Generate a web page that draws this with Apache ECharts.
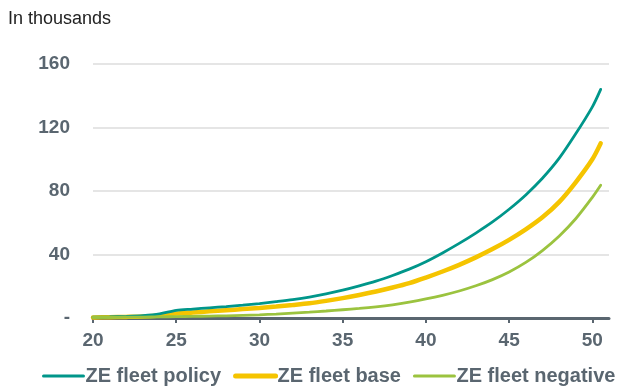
<!DOCTYPE html>
<html>
<head>
<meta charset="utf-8">
<script src="https://cdn.jsdelivr.net/npm/echarts@6/dist/echarts.min.js"></script>
<style>
  html, body { margin: 0; padding: 0; background: #fff; }
  #chart { width: 619px; height: 390px; }
</style>
</head>
<body>
<div id="chart"></div>
<script>
// Zero-emission fleet projections, thousands of vehicles
const years = [20, 21, 22, 23, 24, 25, 26, 27, 28, 29, 30, 31, 32, 33, 34, 35,
  36, 37, 38, 39, 40, 41, 42, 43, 44, 45, 46, 47, 48, 49, 50, 50.5];

const policy = [0.5, 0.7, 1.0, 1.5, 2.6, 4.8, 5.6, 6.4, 7.2, 8.1, 9.1, 10.3, 11.6,
  13.2, 15.2, 17.5, 20.2, 23.2, 26.8, 30.8, 35.5, 41, 47, 53.5, 60.5, 68.5, 77.5,
  88, 100.5, 116, 133, 144];

const base = [0.3, 0.5, 0.7, 1.0, 1.6, 2.8, 3.5, 4.2, 4.9, 5.6, 6.3, 7.2, 8.2,
  9.3, 10.8, 12.5, 14.5, 16.7, 19.2, 22, 25.5, 29.3, 33.5, 38.2, 43.4, 49.2, 55.8,
  63.4, 73, 85.5, 100, 110];

const negative = [0.3, 0.4, 0.5, 0.6, 0.7, 0.9, 1.0, 1.2, 1.4, 1.7, 2.0, 2.5, 3.1,
  3.7, 4.4, 5.2, 6.0, 7.0, 8.3, 10, 12, 14.3, 17, 20.3, 24.2, 29, 35, 42.5, 51.5,
  62.5, 76, 83.6];

const seriesNames = ['ZE fleet policy', 'ZE fleet base', 'ZE fleet negative'];
const xTickValues = [20, 25, 30, 35, 40, 45, 50];

const FONT = '"Liberation Sans", Arial, sans-serif';
const LABEL = '#5a6670';
const COLORS = ['#00968a', '#f5c400', '#9bc33f'];

const pairs = arr => years.map((y, i) => [y, arr[i]]);

const chart = echarts.init(document.getElementById('chart'), null, { renderer: 'canvas' });
chart.setOption({
  animation: false,
  backgroundColor: '#ffffff',
  title: {
    text: 'In thousands',
    left: 3,
    top: 5,
    textStyle: { fontFamily: FONT, fontSize: 18, fontWeight: 'normal', color: '#222' }
  },
  grid: { left: 93, right: 10, top: 64, bottom: 72 },
  legend: {
    top: 366,
    left: 42,
    padding: 0,
    itemWidth: 40,
    itemHeight: 12,
    itemGap: 12,
    itemStyle: { opacity: 0 },
    textStyle: { fontFamily: FONT, fontSize: 20, fontWeight: 'bold', color: LABEL, padding: [0, 0, 0, -3] },
    data: [
      { name: seriesNames[0], lineStyle: { width: 3, cap: 'round' } },
      { name: seriesNames[1], lineStyle: { width: 5, cap: 'round' } },
      { name: seriesNames[2], lineStyle: { width: 3, cap: 'round' } }
    ]
  },
  xAxis: {
    type: 'value',
    min: 20,
    max: 51,
    splitLine: { show: false },
    axisLine: { show: true, lineStyle: { color: '#5a6670', width: 3 } },
    axisTick: { show: true, customValues: xTickValues, length: 5, lineStyle: { color: '#5a6670', width: 2 } },
    axisLabel: {
      customValues: xTickValues,
      margin: 13,
      fontFamily: FONT, fontSize: 19, fontWeight: 'bold', color: LABEL
    }
  },
  yAxis: {
    type: 'value',
    min: 0,
    max: 160,
    interval: 40,
    axisLine: { show: false },
    axisTick: { show: false },
    splitLine: { lineStyle: { color: '#dcdcdc', width: 1.5 } },
    axisLabel: {
      margin: 23,
      fontFamily: FONT, fontSize: 19, fontWeight: 'bold', color: LABEL,
      formatter: v => (v === 0 ? '-' : String(v))
    }
  },
  series: [
    {
      name: seriesNames[0], type: 'line', smooth: 0.3, symbol: 'none',
      data: pairs(policy), z: 3,
      lineStyle: { color: COLORS[0], width: 2.8, cap: 'round' }, itemStyle: { color: COLORS[0] }
    },
    {
      name: seriesNames[1], type: 'line', smooth: 0.3, symbol: 'none',
      data: pairs(base), z: 2,
      lineStyle: { color: COLORS[1], width: 4.5, cap: 'round' }, itemStyle: { color: COLORS[1] }
    },
    {
      name: seriesNames[2], type: 'line', smooth: 0.3, symbol: 'none',
      data: pairs(negative), z: 4,
      lineStyle: { color: COLORS[2], width: 2.8, cap: 'round' }, itemStyle: { color: COLORS[2] }
    }
  ]
});
</script>
</body>
</html>
